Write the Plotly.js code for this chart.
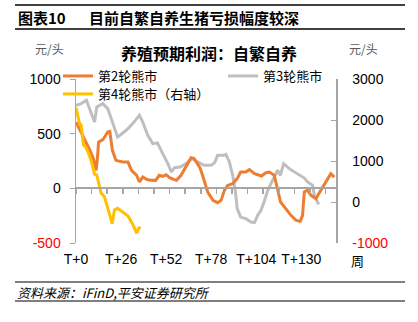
<!DOCTYPE html>
<html><head><meta charset="utf-8">
<script src="https://cdn.plot.ly/plotly-3.0.1.min.js"></script>
<style>html,body{margin:0;padding:0;background:#fff;}#chart{width:418px;height:322px;}</style>
</head><body><div id="chart"></div>
<script>
// Series 2 (第2轮熊市, left axis)
const weeks2 = [0,1.5,3,4.5,6,8,10,11.6,12.5,13,15.5,17,18.3,19.5,21,23,25,27,30,32,35,36.6,38.5,41,43,46,48,50,52,54,56,58,60.6,63.5,66.4,68,70,71.5,73,76,79,81.7,83.7,85.6,87.5,90.4,93,95,98,100,103,107,109.6,111.5,114.4,116.3,118,121,124,127,129.4,130.7,131.7,133.6,135.6,138.4,141.3,144.2,147,149];
const vals2 = [606,560,515,470,423,350,270,165,300,423,445,480,515,520,348,256,245,241,240,165,119,58,103,80,75,73,119,110,125,98,85,73,119,195,280,275,230,190,119,-34,-110,-131,-110,-18,27,43,89,149,149,171,134,113,143,149,119,-18,-125,-186,-247,-293,-302,-247,-34,-18,-64,-94,-18,58,134,103];
// Series 3 (第3轮熊市, left axis)
const weeks3 = [0,3,6,9,10.7,12,15.5,18.3,21,24,27,30,32.7,36.6,38.5,41.4,44.3,47,50,53,55,56.8,60,63.5,67,69,72,74,78,80,81.7,85.6,86.5,88.5,90.4,92,93,95,98,101,103,104.8,106.7,108.6,110.6,113,114.4,116.3,117.9,119.8,123,126,128.8,131.7,133.6,136.5,137.5,139.4,140];
const vals3 = [759,775,805,683,606,744,775,729,606,469,506,546,592,668,606,485,409,415,317,226,149,189,195,226,271,256,226,210,210,235,302,302,311,241,119,-34,-186,-263,-278,-308,-314,-247,-201,-120,-18,60,103,165,119,226,180,149,119,94,58,27,-64,-140,-146];
// Series 4 (第4轮熊市, right axis)
const weeks4 = [0,1,2,3,4.3,5.5,6.8,8.8,10.7,12,13,14.5,16.4,18.3,19.5,20.8,22.2,24,27,30,32.7,35,36,37];
const vals4 = [2300,2100,1919,1870,1390,1350,1230,1000,680,658,456,212,129,-115,-320,-530,-195,-154,-237,-340,-540,-760,-660,-602];
// Tick labels
const xTickVals = [0,26,52,78,104,130];
const xTickText = ['T+0','T+26','T+52','T+78','T+104','T+130'];
const yLeftVals = [1000,500,0,-500];
const yRightVals = [3000,2000,1000,0,-1000];

const FONT = 'Liberation Sans, Arial, "Noto Sans CJK SC", sans-serif';
const CJK = '"Noto Sans CJK SC", "Liberation Sans", sans-serif';
const fmt = v => v < 0 ? '<span style="color:#FF0000">' + v + '</span>' : String(v);

// paper coordinate helpers from pixel positions (plot area 76..336 x, 79..243 y)
const L = 76, R = 336, T = 79, B = 243;
const px = x => (x - L) / (R - L);
const py = y => (B - y) / (B - T);

const legendBase = {xanchor: 'left', yanchor: 'top', bgcolor: 'rgba(0,0,0,0)', font: {family: CJK, size: 13, color: '#000'}, itemwidth: 30};

const traces = [
  {x: weeks3, y: vals3, type: 'scatter', mode: 'lines', name: '第3轮熊市', line: {color: '#BFBFBF', width: 3}, legend: 'legend2', yaxis: 'y'},
  {x: weeks2, y: vals2, type: 'scatter', mode: 'lines', name: '第2轮熊市', line: {color: '#ED7D31', width: 3}, legend: 'legend', yaxis: 'y'},
  {x: weeks4, y: vals4, type: 'scatter', mode: 'lines', name: '第4轮熊市（右轴）', line: {color: '#FFC000', width: 3}, legend: 'legend3', yaxis: 'y2'},
  {x: [], y: [], type: 'scatter', mode: 'lines', xaxis: 'x2', yaxis: 'y', showlegend: false, hoverinfo: 'skip'}
];

const layout = {
  width: 418, height: 322,
  margin: {l: L, r: 418 - R, t: T, b: 322 - B},
  paper_bgcolor: '#fff', plot_bgcolor: 'rgba(0,0,0,0)',
  font: {family: FONT, size: 14, color: '#000'},
  showlegend: true,
  legend: Object.assign({}, legendBase, {x: px(58), y: py(61)}),
  legend2: Object.assign({}, legendBase, {x: px(223), y: py(61)}),
  legend3: Object.assign({}, legendBase, {x: px(58), y: py(79)}),
  xaxis: {range: [0, 150], tickmode: 'array', tickvals: xTickVals, ticktext: xTickText, showline: false, showgrid: false, zeroline: false, ticks: '', ticklabelstandoff: 6, tickfont: {size: 14}},
  xaxis2: {range: [0, 150], overlaying: 'x', anchor: 'free', position: 1/3, showline: true, linecolor: '#A6A6A6', linewidth: 2, ticks: 'outside', ticklen: 5, tickwidth: 1.5, tickcolor: '#A6A6A6', tick0: 0, dtick: 9, showticklabels: false, showgrid: false, zeroline: false},
  yaxis: {range: [-500, 1000], tickmode: 'array', tickvals: yLeftVals, ticktext: yLeftVals.map(fmt), showline: true, linecolor: '#A6A6A6', linewidth: 1.5, ticks: 'outside', ticklen: 5, tickcolor: '#A6A6A6', showgrid: false, zeroline: false, ticklabelstandoff: 6, tickfont: {size: 14}},
  yaxis2: {range: [-1000, 3000], overlaying: 'y', side: 'right', tickmode: 'array', tickvals: yRightVals, ticktext: yRightVals.map(fmt), showline: true, linecolor: '#A6A6A6', linewidth: 1.5, ticks: 'inside', ticklen: 5, tickcolor: '#A6A6A6', showgrid: false, zeroline: false, ticklabelstandoff: 12, tickfont: {size: 14}},
  shapes: [
    {type: 'line', xref: 'paper', yref: 'paper', x0: px(15), x1: px(405), y0: py(5), y1: py(5), line: {color: '#000', width: 1.5}},
    {type: 'line', xref: 'paper', yref: 'paper', x0: px(15), x1: px(405), y0: py(29), y1: py(29), line: {color: '#000', width: 1.5}},
    {type: 'line', xref: 'paper', yref: 'paper', x0: px(15), x1: px(405), y0: py(282), y1: py(282), line: {color: '#000', width: 1.2}},
    {type: 'line', xref: 'paper', yref: 'paper', x0: px(15), x1: px(405), y0: py(301), y1: py(301), line: {color: '#000', width: 1.2}}
  ],
  annotations: [
    {text: '<b>图表10</b>', xref: 'paper', yref: 'paper', x: px(16), y: py(17), xanchor: 'left', yanchor: 'middle', showarrow: false, font: {family: CJK, size: 15, color: '#000'}},
    {text: '<b>目前自繁自养生猪亏损幅度较深</b>', xref: 'paper', yref: 'paper', x: px(87), y: py(17), xanchor: 'left', yanchor: 'middle', showarrow: false, font: {family: CJK, size: 15, color: '#000'}},
    {text: '<b>养殖预期利润：自繁自养</b>', xref: 'paper', yref: 'paper', x: px(209), y: py(53), xanchor: 'center', yanchor: 'middle', showarrow: false, font: {family: CJK, size: 16, color: '#000'}},
    {text: '元/头', xref: 'paper', yref: 'paper', x: px(49), y: py(48), xanchor: 'center', yanchor: 'middle', showarrow: false, font: {family: CJK, size: 12, color: '#595959'}},
    {text: '元/头', xref: 'paper', yref: 'paper', x: px(363), y: py(48), xanchor: 'center', yanchor: 'middle', showarrow: false, font: {family: CJK, size: 12, color: '#595959'}},
    {text: '周', xref: 'paper', yref: 'paper', x: px(357), y: py(260), xanchor: 'center', yanchor: 'middle', showarrow: false, font: {family: CJK, size: 13, color: '#000'}},
    {text: '<i>资料来源：iFinD,平安证券研究所</i>', xref: 'paper', yref: 'paper', x: px(15), y: py(292), xanchor: 'left', yanchor: 'middle', showarrow: false, font: {family: CJK, size: 13, color: '#000'}}
  ]
};

Plotly.newPlot('chart', traces, layout, {staticPlot: true, displayModeBar: false});
</script>
</body></html>
